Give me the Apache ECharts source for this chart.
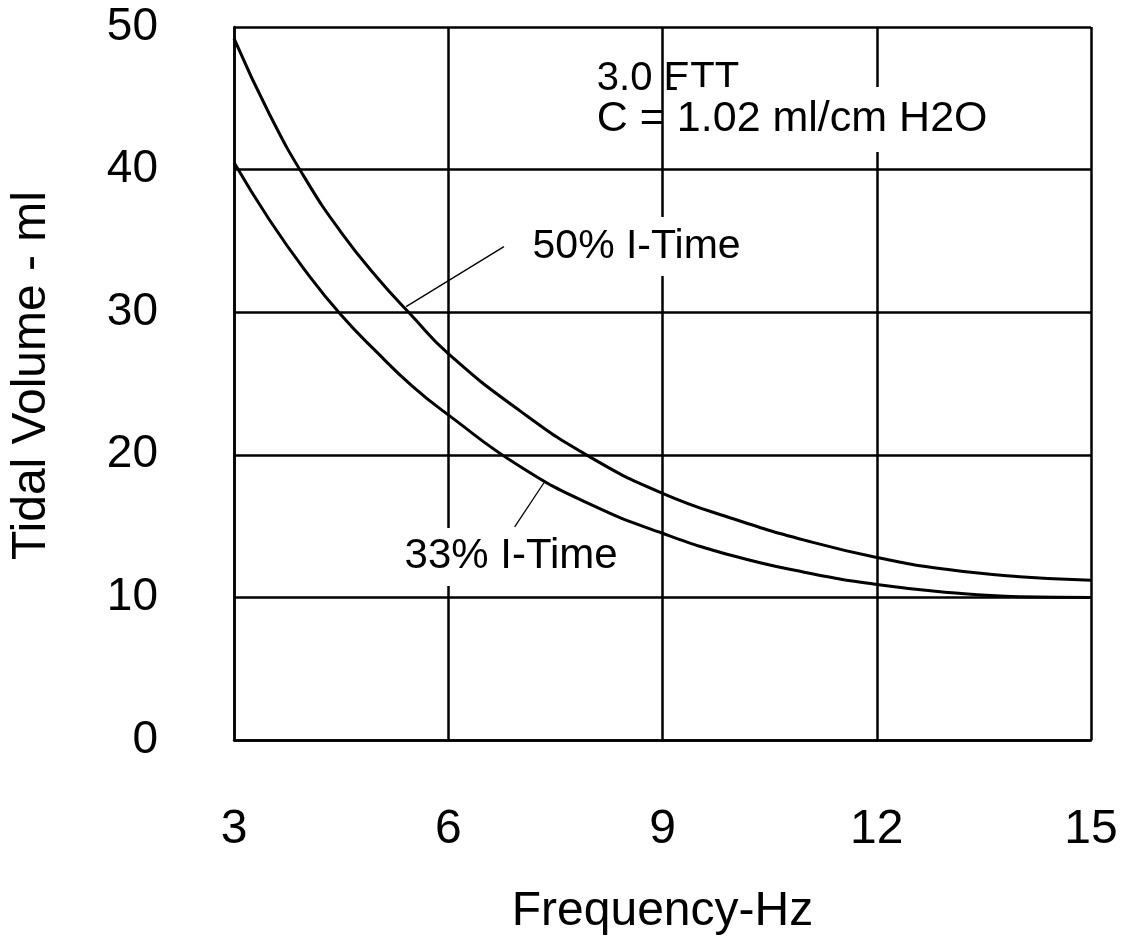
<!DOCTYPE html>
<html>
<head>
<meta charset="utf-8">
<script src="https://cdn.jsdelivr.net/npm/echarts@6/dist/echarts.min.js"></script>
<style>
html,body{margin:0;padding:0;background:#fff;}
#chart{width:1129px;height:942px;}
</style>
</head>
<body>
<div id="chart"></div>
<script>
// ---- data ----
const xTicks = [3, 6, 9, 12, 15];
const yTicks = [0, 10, 20, 30, 40, 50];
const freq = [3, 3.5, 4, 4.5, 5, 5.5, 6, 7, 8, 9, 10, 11, 12, 13, 14, 15];
const vol50 = [49.2, 43.85, 39.35, 35.6, 32.45, 29.7, 27.1, 23.1, 19.8, 17.3, 15.5, 14.0, 12.8, 11.95, 11.45, 11.2];
const vol33 = [40.5, 36.45, 32.9, 29.8, 27.2, 24.8, 22.8, 19.2, 16.5, 14.5, 12.9, 11.75, 10.9, 10.35, 10.05, 10.0];
const seriesNames = ['50% I-Time', '33% I-Time'];
const noteLines = ['3.0 ETT', 'C = ', '1.02 ml/cm H2O'];
const xTitle = 'Frequency-Hz';
const yTitle = 'Tidal Volume - ml';
// annotation anchors (data coordinates)
const label50At = [7.18, 34.6];
const label33At = [5.36, 12.84];
const note1At = [8.08, 46.39];
const note2At = [8.08, 43.51];
const leader50 = [[5.41, 30.39], [6.78, 34.6]];
const leader33 = [[7.34, 18.04], [6.93, 14.95]];

const FONT = '"Liberation Sans", Arial, sans-serif';
const chart = echarts.init(document.getElementById('chart'), null, {renderer: 'canvas'});

function zip(xs, ys) { return xs.map((x, i) => [x, ys[i]]); }

const option = {
  animation: false,
  backgroundColor: '#fff',
  grid: {left: 233, right: 38, top: 27, bottom: 202, containLabel: false},
  xAxis: {
    type: 'value', min: xTicks[0], max: xTicks[xTicks.length - 1], interval: 3,
    axisLine: {show: true, lineStyle: {color: '#000', width: 2.5}},
    axisTick: {show: false},
    axisLabel: {color: '#000', fontSize: 48, fontFamily: FONT, margin: 66},
    splitLine: {show: true, lineStyle: {color: '#000', width: 2.5}},
    name: xTitle, nameLocation: 'middle', nameGap: 148,
    nameTextStyle: {color: '#000', fontSize: 48, fontFamily: FONT}
  },
  yAxis: {
    type: 'value', min: yTicks[0], max: yTicks[yTicks.length - 1], interval: 10,
    axisLine: {show: true, lineStyle: {color: '#000', width: 2.5}},
    axisTick: {show: false},
    axisLabel: {color: '#000', fontSize: 46, fontFamily: FONT, margin: 76},
    splitLine: {show: true, lineStyle: {color: '#000', width: 2.5}},
    name: yTitle, nameLocation: 'middle', nameGap: 178,
    nameTextStyle: {color: '#000', fontSize: 48, fontFamily: FONT, padding: [0, 0, 0, 16]}
  },
  series: [
    {
      name: seriesNames[0], type: 'line', data: zip(freq, vol50),
      smooth: true, showSymbol: false, symbol: 'none',
      lineStyle: {color: '#000', width: 3}, z: 3
    },
    {
      name: seriesNames[1], type: 'line', data: zip(freq, vol33),
      smooth: true, showSymbol: false, symbol: 'none',
      lineStyle: {color: '#000', width: 3}, z: 3
    },
    {
      name: 'annotations', type: 'scatter', symbolSize: 0, silent: true, z: 5,
      itemStyle: {opacity: 1},
      data: [
        {value: label50At, label: {show: true, position: 'right', distance: 0, formatter: seriesNames[0],
          fontSize: 41, fontFamily: FONT, color: '#000', backgroundColor: '#fff', padding: [8, 0, 10, 0]}},
        {value: label33At, label: {show: true, position: 'right', distance: 0, formatter: seriesNames[1],
          fontSize: 42, fontFamily: FONT, color: '#000', backgroundColor: '#fff', padding: [7, 2, 9, 2]}},
        {value: note1At, label: {show: true, position: 'right', distance: 0, formatter: noteLines[0],
          fontSize: 40, fontFamily: FONT, color: '#000'}},
        {value: note2At, label: {show: true, position: 'right', distance: 0,
          formatter: '{a|' + noteLines[1] + '}{b|' + noteLines[2] + '}',
          rich: {
            a: {fontSize: 43, fontFamily: FONT, color: '#000'},
            b: {fontSize: 43, fontFamily: FONT, color: '#000', backgroundColor: '#fff', padding: [11, 0, 11, 0]}
          }}}
      ],
      markLine: {
        silent: true, symbol: ['none', 'none'], animation: false,
        label: {show: false},
        lineStyle: {color: '#000', width: 1.3, type: 'solid', opacity: 1},
        data: [
          [{coord: leader50[0]}, {coord: leader50[1]}],
          [{coord: leader33[0]}, {coord: leader33[1]}]
        ]
      }
    }
  ]
};
chart.setOption(option);
</script>
</body>
</html>
